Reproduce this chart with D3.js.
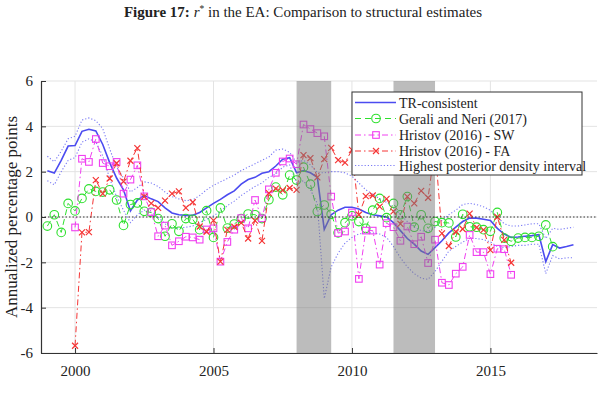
<!DOCTYPE html>
<html><head><meta charset="utf-8">
<script src="https://cdn.jsdelivr.net/npm/d3@7"></script>
<style>body{margin:0;background:#fff;} svg{display:block;}</style>
</head><body>
<script>
// ---- data (quarterly) ----
const trStart = 1999.0;
const trConsistent = [2.04,1.94,2.5,3.13,3.15,3.78,3.87,3.8,3.2,2.4,1.72,1.2,0.27,0.75,0.95,0.8,0.68,0.4,0.18,0.1,
 0.07,0.08,0.2,0.4,0.6,0.78,0.98,1.15,1.45,1.65,1.75,1.93,2.0,2.25,2.55,2.62,1.95,2.05,1.95,1.75,
 -0.55,0.1,0.3,0.43,0.43,0.35,0.2,0.1,0.05,0.0,-0.25,-0.6,-0.95,-1.2,-1.5,-1.65,-1.35,-1.05,-0.7,-0.45,
 -0.2,-0.05,-0.05,-0.1,-0.15,-0.5,-0.75,-0.9,-0.88,-0.85,-0.82,-0.78,-1.97,-1.22,-1.37,-1.3,-1.22];
const hpdUpper = [2.68,2.44,2.9,3.45,3.56,4.28,4.37,4.25,3.9,3.0,2.2,1.72,1.1,1.3,1.55,1.5,1.35,1.1,0.9,0.8,
 0.72,0.75,0.95,1.2,1.4,1.55,1.7,1.85,2.05,2.2,2.35,2.5,2.65,2.95,3.0,2.85,2.4,2.5,2.3,1.95,
 1.95,2.0,2.0,1.95,1.8,1.5,1.2,1.0,0.8,0.65,0.4,0.1,-0.2,-0.45,-0.6,-0.65,-0.45,-0.15,0.1,0.3,
 0.55,0.6,0.55,0.45,0.3,0.0,-0.3,-0.4,-0.4,-0.35,-0.3,-0.3,-0.95,-0.5,-0.55,-0.5,-0.45];
const hpdLower = [1.6,1.42,2.0,2.5,2.62,3.3,3.45,3.3,2.7,1.7,0.9,0.3,-0.25,0.1,0.3,0.2,0.0,-0.3,-0.48,-0.5,
 -0.45,-0.4,-0.25,-0.1,0.05,0.25,0.5,0.7,0.95,1.15,1.35,1.5,1.75,1.9,2.2,2.3,1.5,1.6,1.2,0.6,
 -3.6,-2.2,-1.6,-1.15,-0.9,-0.75,-0.7,-0.7,-0.75,-0.9,-1.3,-1.8,-2.2,-2.5,-2.7,-2.75,-2.4,-1.95,-1.5,-1.3,
 -1.1,-0.95,-0.95,-1.0,-1.1,-1.3,-1.35,-1.3,-1.25,-1.25,-1.2,-1.2,-2.5,-1.7,-1.85,-1.8,-1.8];
const geraliStart = 1999.0;
const geraliNeri = [-0.4,0.1,-0.68,0.6,0.27,0.82,1.24,1.13,1.1,1.2,0.75,-0.37,0.55,0.62,0.25,0.2,-0.07,-0.85,-0.3,-0.63,
 -0.07,-0.1,-0.56,0.28,-0.9,0.4,-0.49,-0.31,-0.07,0.13,0.1,-0.07,0.76,1.32,0.98,1.85,1.63,2.2,1.45,0.24,
 0.53,0.12,-0.7,-0.25,0.05,-0.2,-0.5,0.3,0.82,-0.03,0.6,0.1,0.9,-0.45,0.1,-0.5,-0.2,-0.25,-0.26,-0.88,
 0.12,-0.43,-0.45,-0.56,-0.63,0.2,-0.93,-1.07,-0.93,-0.9,-0.9,-0.85,-0.35,-1.31];
const hristovStart = 2000.0;
const hristovSW = [-0.46,2.57,2.43,3.44,2.38,2.24,2.43,1.03,1.65,2.28,0.91,0.22,-0.85,-0.38,-1.25,-1.07,
 -0.87,-0.9,-1.0,-0.55,-0.5,-1.97,-1.1,-0.56,-0.05,-0.5,0.75,-0.06,1.22,1.95,2.45,2.58,
 2.33,4.08,3.88,3.7,3.56,0.9,-0.71,-0.64,0.2,-2.73,-0.6,-0.6,-2.1,-0.27,-0.45,-1.05,
 -0.42,-1.2,-0.87,-2.03,-1.0,-2.9,-3.0,-2.5,-2.2,-0.79,-1.55,-1.55,-2.52,-1.4,-1.42,-2.55];
const hristovFA = [-5.68,-0.68,-0.67,1.63,1.03,1.7,2.37,1.56,2.48,3.04,0.9,0.6,0.4,0.72,1.03,1.13,
 0.4,0.65,-0.42,-0.65,-0.15,-1.97,-0.57,-0.43,-0.26,-0.95,-0.16,-1.05,1.05,1.25,1.18,1.28,
 1.2,2.73,2.6,1.75,2.55,3.05,2.51,2.4,2.96,0.1,0.92,0.95,0.46,0.8,0.25,-0.3,
 0.9,0.6,1.15,0.85,3.1,-0.72,-1.28,-0.65,-0.53,0.15,-0.47,-0.57,-1.46,0.0,-1.01,-2.02];
const recessions = [[2008.0, 2009.25], [2011.5, 2013.0]];
const xTicks = [2000, 2005, 2010, 2015];
const yTicks = [-6, -4, -2, 0, 2, 4, 6];
const legendLabels = ["TR-consistent", "Gerali and Neri (2017)", "Hristov (2016) - SW", "Hristov (2016) - FA", "Highest posterior density interval"];

// ---- layout ----
const W = 609, H = 399;
const x = d3.scaleLinear().domain([1998.77, 2018.85]).range([41, 597]);
const y = d3.scaleLinear().domain([-6, 6]).range([353, 81]);
const serif = "'Liberation Serif','Times New Roman',serif";
const col = {tr:"#4b4bf0", hpd:"#7a7af5", gn:"#2ee02e", sw:"#f040f0", fa:"#f53535"};

const svg = d3.select("body").append("svg").attr("width", W).attr("height", H)
  .style("font-family", serif);

const toPts = (start, arr) => arr.map((v, i) => [start + i / 4, v]);

// grid
const g = svg.append("g");
g.selectAll(".gx").data(xTicks).join("line")
  .attr("x1", d => x(d)).attr("x2", d => x(d)).attr("y1", y(6)).attr("y2", y(-6))
  .attr("stroke", "#e3e3e3").attr("stroke-width", 1);
g.selectAll(".gy").data(yTicks).join("line")
  .attr("x1", x.range()[0]).attr("x2", x.range()[1]).attr("y1", d => y(d)).attr("y2", d => y(d))
  .attr("stroke", "#e3e3e3").attr("stroke-width", 1);

const line = d3.line().x(d => x(d[0])).y(d => y(d[1]));

// HPD bands
[hpdUpper, hpdLower].forEach(arr => {
  svg.append("path").datum(toPts(trStart, arr)).attr("d", line)
    .attr("fill", "none").attr("stroke", col.hpd).attr("stroke-width", 1.1)
    .attr("stroke-dasharray", "1.2,2");
});
// TR-consistent
svg.append("path").datum(toPts(trStart, trConsistent)).attr("d", line)
  .attr("fill", "none").attr("stroke", col.tr).attr("stroke-width", 1.6);

// Gerali and Neri
const gnPts = toPts(geraliStart, geraliNeri);
svg.append("path").datum(gnPts).attr("d", line).attr("fill", "none")
  .attr("stroke", col.gn).attr("stroke-width", 1).attr("stroke-dasharray", "6,4");
svg.append("g").selectAll("circle").data(gnPts).join("circle")
  .attr("cx", d => x(d[0])).attr("cy", d => y(d[1])).attr("r", 4.3)
  .attr("fill", "none").attr("stroke", col.gn).attr("stroke-width", 1.1);

// Hristov SW
const swPts = toPts(hristovStart, hristovSW);
svg.append("path").datum(swPts).attr("d", line).attr("fill", "none")
  .attr("stroke", col.sw).attr("stroke-width", 1).attr("stroke-dasharray", "6,3,1.5,3");
svg.append("g").selectAll("rect").data(swPts).join("rect")
  .attr("x", d => x(d[0]) - 3.3).attr("y", d => y(d[1]) - 3.3).attr("width", 6.6).attr("height", 6.6)
  .attr("fill", "none").attr("stroke", col.sw).attr("stroke-width", 1.1);

// Hristov FA
const faPts = toPts(hristovStart, hristovFA);
svg.append("path").datum(faPts).attr("d", line).attr("fill", "none")
  .attr("stroke", col.fa).attr("stroke-width", 1).attr("stroke-dasharray", "6,3,1.5,3");
const xm = (sel, s) => sel.attr("d", d => {
  const cx = x(d[0]), cy = y(d[1]);
  return `M${cx-s},${cy-s}L${cx+s},${cy+s}M${cx-s},${cy+s}L${cx+s},${cy-s}`;
});
xm(svg.append("g").selectAll("path").data(faPts).join("path"), 3)
  .attr("stroke", col.fa).attr("stroke-width", 1.2).attr("fill", "none");

// recession shading (translucent overlay)
svg.append("g").selectAll("rect").data(recessions).join("rect")
  .attr("x", d => x(d[0])).attr("width", d => x(d[1]) - x(d[0]))
  .attr("y", y(6)).attr("height", y(-6) - y(6))
  .attr("fill", "#7a7a7a").attr("opacity", 0.5);

// zero line
svg.append("line").attr("x1", x.range()[0]).attr("x2", x.range()[1])
  .attr("y1", y(0)).attr("y2", y(0)).attr("stroke", "#222").attr("stroke-width", 0.9)
  .attr("stroke-dasharray", "1.5,2");

// axes
const axX = svg.append("g").attr("transform", `translate(0,${y(-6)})`)
  .call(d3.axisBottom(x).tickValues(xTicks).tickFormat(d3.format("d")).tickSizeInner(-5).tickSizeOuter(0).tickPadding(12));
const axY = svg.append("g").attr("transform", `translate(${x.range()[0]},0)`)
  .call(d3.axisLeft(y).tickValues(yTicks).tickFormat(d => d < 0 ? "-" + Math.abs(d) : d).tickSizeInner(-5).tickSizeOuter(0).tickPadding(8));
[axX, axY].forEach(a => {
  a.select(".domain").attr("stroke", "#333").attr("stroke-width", 1.2);
  a.selectAll(".tick line").attr("stroke", "#333");
  a.selectAll(".tick text").attr("font-family", serif).attr("font-size", 15).attr("fill", "#222");
});

// y label
svg.append("text").attr("transform", `translate(17,217) rotate(-90)`)
  .attr("text-anchor", "middle").attr("font-size", 17).attr("fill", "#222")
  .text("Annualized percentage points");

// title
const t = svg.append("text").attr("x", 303).attr("y", 17).attr("text-anchor", "middle")
  .attr("font-size", 15).attr("fill", "#222");
t.append("tspan").attr("font-weight", "bold").text("Figure 17:");
t.append("tspan").text(" ");
t.append("tspan").attr("font-style", "italic").text("r");
t.append("tspan").attr("font-size", 9.5).attr("dy", -5).text("*");
t.append("tspan").attr("dy", 5).text(" in the EA: Comparison to structural estimates");

// legend
const lg = svg.append("g");
lg.append("rect").attr("x", 352).attr("y", 92).attr("width", 230).attr("height", 83)
  .attr("fill", "#fff").attr("stroke", "#333").attr("stroke-width", 1);
const rows = [102.5, 118.5, 135, 151, 165.5];
const styles = [
  {c: col.tr, w: 1.6, dash: null, m: null},
  {c: col.gn, w: 1, dash: "6,4", m: "circle"},
  {c: col.sw, w: 1, dash: "6,3,1.5,3", m: "square"},
  {c: col.fa, w: 1, dash: "6,3,1.5,3", m: "x"},
  {c: col.hpd, w: 1.1, dash: "1.2,2", m: null}
];
legendLabels.forEach((lab, i) => {
  const st = styles[i], ry = rows[i];
  lg.append("line").attr("x1", 355).attr("x2", 396).attr("y1", ry).attr("y2", ry)
    .attr("stroke", st.c).attr("stroke-width", st.w).attr("stroke-dasharray", st.dash);
  if (st.m === "circle") lg.append("circle").attr("cx", 376).attr("cy", ry).attr("r", 4.3)
    .attr("fill", "none").attr("stroke", st.c).attr("stroke-width", 1.1);
  if (st.m === "square") lg.append("rect").attr("x", 376 - 3.3).attr("y", ry - 3.3).attr("width", 6.6).attr("height", 6.6)
    .attr("fill", "none").attr("stroke", st.c).attr("stroke-width", 1.1);
  if (st.m === "x") lg.append("path").attr("d", `M373,${ry-3}L379,${ry+3}M373,${ry+3}L379,${ry-3}`)
    .attr("stroke", st.c).attr("stroke-width", 1.2);
  lg.append("text").attr("x", 399).attr("y", ry + 5).attr("font-size", 14).attr("fill", "#222").text(lab);
});
</script>
</body></html>
